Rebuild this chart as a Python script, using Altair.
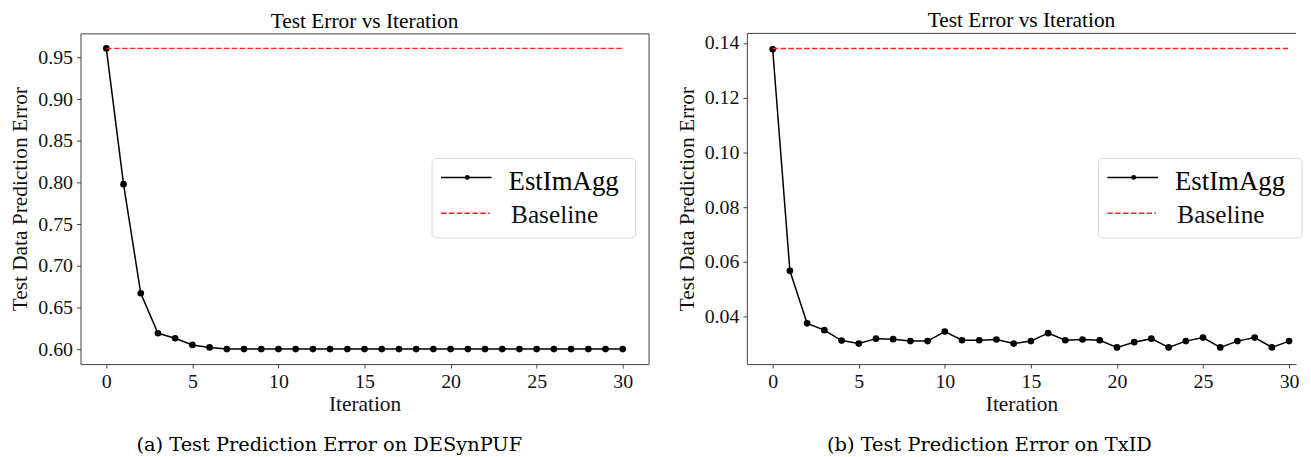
import altair as alt
import pandas as pd

# ---- data ----
iterations = list(range(31))
err_desynpuf = [0.961, 0.798, 0.667, 0.619, 0.613, 0.605, 0.602] + [0.600] * 24
err_txid = [0.1377, 0.0567, 0.0375, 0.0350, 0.0312, 0.0301, 0.0319, 0.0317, 0.0310, 0.0310,
            0.0345, 0.0313, 0.0313, 0.0316, 0.0301, 0.0310, 0.0339, 0.0313, 0.0316, 0.0313,
            0.0287, 0.0306, 0.0319, 0.0287, 0.0310, 0.0323, 0.0287, 0.0310, 0.0323, 0.0287,
            0.0310]
baseline_desynpuf = 0.961
baseline_txid = 0.138
series_names = ["EstImAgg", "Baseline"]
panel_title = "Test Error vs Iteration"
captions = ["(a) Test Prediction Error on DESynPUF", "(b) Test Prediction Error on TxID"]
x_ticks = [0, 5, 10, 15, 20, 25, 30]
y_ticks_a = [0.60, 0.65, 0.70, 0.75, 0.80, 0.85, 0.90, 0.95]
y_ticks_b = [0.04, 0.06, 0.08, 0.10, 0.12, 0.14]

FONT = "Liberation Serif"
FRAME = "#444444"
H = 333
W_A = 572
W_B = 553  # right panel is cropped by the page edge in the reference
XMIN = -1.5
PX_PER_UNIT = W_A / 33.0


def make_panel(errs, base, ydom, yticks, width, full_frame):
    xmax = XMIN + width / PX_PER_UNIT
    df = pd.DataFrame({"Iteration": iterations, "Error": errs})
    bdf = pd.DataFrame({"Iteration": [iterations[0], iterations[-1]], "Error": [base, base]})
    x = alt.X("Iteration:Q", scale=alt.Scale(domain=[XMIN, xmax], nice=False, zero=False),
              axis=alt.Axis(values=x_ticks, format="d", title="Iteration", titlePadding=2,
                            domain=not full_frame, domainColor=FRAME))
    y = alt.Y("Error:Q", scale=alt.Scale(domain=ydom, nice=False, zero=False),
              axis=alt.Axis(values=yticks, format=".2f", title="Test Data Prediction Error",
                            titlePadding=6, domain=not full_frame, domainColor=FRAME))
    one = pd.DataFrame({"a": [0]})
    line = alt.Chart(df).mark_line(color="black", strokeWidth=1.5).encode(x=x, y=y)
    pts = alt.Chart(df).mark_point(filled=True, color="black", size=45, opacity=1).encode(x=x, y=y)
    bl = alt.Chart(bdf).mark_line(color="#ff2020", strokeDash=[5.5, 2.4], strokeWidth=1.5).encode(x=x, y=y)

    box = alt.Chart(one).mark_rect(
        fill="white", stroke="#d6d6d6", strokeWidth=1, cornerRadius=4, opacity=0.9
    ).encode(x=alt.value(354), x2=alt.value(559), y=alt.value(126), y2=alt.value(206))
    s1 = alt.Chart(one).mark_rule(color="black", strokeWidth=1.5).encode(
        x=alt.value(363), x2=alt.value(414), y=alt.value(145))
    s1p = alt.Chart(one).mark_point(filled=True, color="black", size=24, opacity=1).encode(
        x=alt.value(389.5), y=alt.value(145))
    s2 = alt.Chart(one).mark_rule(color="#ff2020", strokeWidth=1.5, strokeDash=[5.5, 2.4]).encode(
        x=alt.value(363), x2=alt.value(412), y=alt.value(181))
    t1 = alt.Chart(pd.DataFrame({"label": [series_names[0]]})).mark_text(
        align="left", baseline="middle", font=FONT, fontSize=27, color="black"
    ).encode(text="label:N", x=alt.value(431), y=alt.value(150))
    t2 = alt.Chart(pd.DataFrame({"label": [series_names[1]]})).mark_text(
        align="left", baseline="middle", font=FONT, fontSize=25.5, color="#111"
    ).encode(text="label:N", x=alt.value(433.5), y=alt.value(183))

    layers = [line, pts, bl, box, s1, s1p, s2, t1, t2]
    props = dict(
        width=width, height=H,
        title=alt.TitleParams(panel_title, font=FONT, fontSize=21.5, fontWeight="normal",
                              color="black", offset=1),
    )
    if not full_frame:
        top = alt.Chart(one).mark_rule(color=FRAME, strokeWidth=1).encode(
            x=alt.value(0), x2=alt.value(width), y=alt.value(0))
        layers.append(top)
        props["view"] = alt.ViewBackground(stroke="transparent")
    return alt.layer(*layers).properties(**props)


pa = make_panel(err_desynpuf, baseline_desynpuf, [0.582, 0.979], y_ticks_a, W_A, True)
pb = make_panel(err_txid, baseline_txid, [0.0226, 0.1435], y_ticks_b, W_B, False)


def captioned(p, cap):
    return alt.vconcat(p, title=alt.TitleParams(cap, orient="bottom", anchor="middle",
                                                 font="DejaVu Serif", fontSize=19.5,
                                                 fontWeight="normal", color="black", offset=21))


chart = alt.hconcat(captioned(pa, captions[0]), captioned(pb, captions[1]), spacing=26).properties(
    padding={"left": 1, "top": 0, "right": 0, "bottom": 0}
).configure_view(stroke=FRAME, strokeWidth=1).configure_axis(
    labelFont=FONT, titleFont=FONT, labelFontSize=20, titleFontSize=21.5,
    titleFontWeight="normal", labelColor="#111", titleColor="#111",
    domain=False, ticks=True, tickColor=FRAME, tickSize=4, labelPadding=4, grid=False,
)

chart.save("out.html", embed_options={"renderer": "svg", "actions": False})
